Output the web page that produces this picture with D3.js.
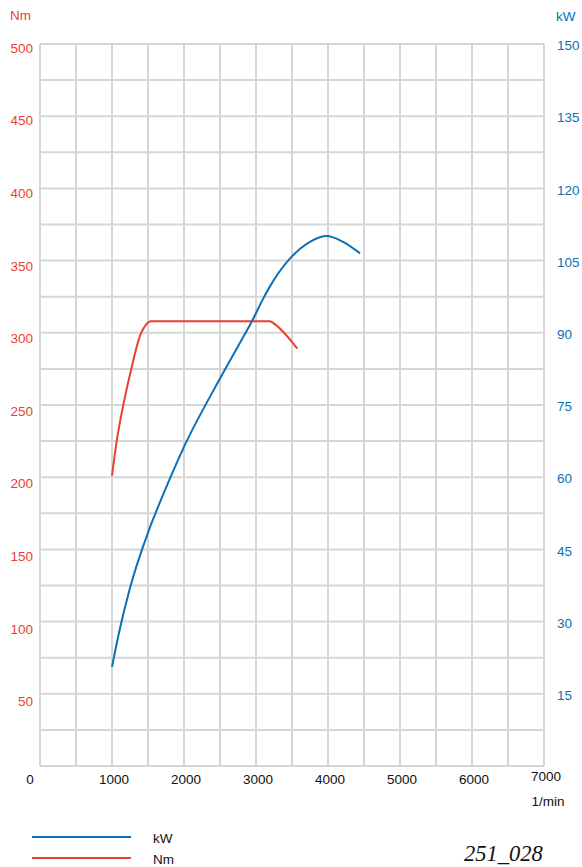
<!DOCTYPE html>
<html>
<head>
<meta charset="utf-8">
<script src="https://cdn.jsdelivr.net/npm/d3@7"></script>
<style>
  body { margin: 0; background: #fff; }
  svg text { font-family: "Liberation Sans", Arial, sans-serif; }
</style>
</head>
<body>
<svg id="chart" width="582" height="867"></svg>
<script>
// data
var rpmTicks = [0, 1000, 2000, 3000, 4000, 5000, 6000, 7000];
var nmTicks = [50, 100, 150, 200, 250, 300, 350, 400, 450, 500];
var kwTicks = [15, 30, 45, 60, 75, 90, 105, 120, 135, 150];

var kwRpm = [1000, 1100, 1250, 1500, 1700, 2000, 2500, 2780, 2940, 3100, 3200, 3470, 3750, 3980, 4210, 4445];
var kwValues = [20.6, 27.9, 37, 48.5, 56, 66.3, 80.5, 88, 92.3, 97.1, 99.8, 105.4, 108.9, 110.1, 108.9, 106.5];

var nmRpm = [1000, 1065, 1157, 1273, 1389, 1470, 1540, 2000, 2500, 3000, 3194, 3260, 3574];
var nmValues = [201, 225, 250, 276, 298, 305.5, 308, 308, 308, 308, 308, 306, 289];

var red = "#ea3f33";
var blue = "#0b70b7";
var gridColor = "#d6d6d6";

var svg = d3.select("#chart");

// scales, both y axes share the same pixel range
var x = d3.scaleLinear().domain([0, 7000]).range([40, 544]);
var yNm = d3.scaleLinear().domain([0, 500]).range([766, 44]);
var yKw = d3.scaleLinear().domain([0, 150]).range([766, 44]);

// grid every 500 rpm and every 25 Nm
var grid = svg.append("g");
grid.selectAll("line.v")
  .data(d3.range(0, 7001, 500))
  .enter().append("line")
  .attr("x1", d => x(d)).attr("x2", d => x(d))
  .attr("y1", yNm(500)).attr("y2", yNm(0))
  .attr("stroke", gridColor).attr("stroke-width", 2);
grid.selectAll("line.h")
  .data(d3.range(0, 501, 25))
  .enter().append("line")
  .attr("x1", x(0)).attr("x2", x(7000))
  .attr("y1", d => yNm(d)).attr("y2", d => yNm(d))
  .attr("stroke", gridColor).attr("stroke-width", 2);

// left axis labels (Nm)
svg.selectAll("text.nm")
  .data(nmTicks)
  .enter().append("text")
  .attr("x", 33)
  .attr("y", d => yNm(d) + 8 - d / 500 * 4)
  .attr("dy", "0.35em")
  .attr("text-anchor", "end")
  .attr("fill", red)
  .style("font-size", "13.5px")
  .text(d => d);
svg.append("text").attr("x", 10).attr("y", 15).attr("dy", "0.35em")
  .attr("fill", red).style("font-size", "13.5px").text("Nm");

// right axis labels (kW)
svg.selectAll("text.kw")
  .data(kwTicks)
  .enter().append("text")
  .attr("x", 557)
  .attr("y", d => yKw(d) + 1.5)
  .attr("dy", "0.35em")
  .attr("fill", blue)
  .style("font-size", "13.5px")
  .text(d => d);
svg.append("text").attr("x", 556).attr("y", 16).attr("dy", "0.35em")
  .attr("fill", blue).style("font-size", "13.5px").text("kW");

// bottom axis labels
svg.selectAll("text.rpm")
  .data(rpmTicks)
  .enter().append("text")
  .attr("x", d => d == 0 ? 30 : x(d) + 2)
  .attr("y", d => d == 7000 ? 776 : 779)
  .attr("dy", "0.35em")
  .attr("text-anchor", "middle")
  .attr("fill", "#111")
  .style("font-size", "13.5px")
  .text(d => d);
svg.append("text").attr("x", 548).attr("y", 801).attr("dy", "0.35em")
  .attr("text-anchor", "middle").attr("fill", "#111")
  .style("font-size", "13.5px").text("1/min");

// curves
var kwLine = d3.line()
  .x((d, i) => x(kwRpm[i]))
  .y(d => yKw(d))
  .curve(d3.curveMonotoneX);
var nmLine = d3.line()
  .x((d, i) => x(nmRpm[i]))
  .y(d => yNm(d))
  .curve(d3.curveMonotoneX);

svg.append("path").attr("d", nmLine(nmValues))
  .attr("fill", "none").attr("stroke", red).attr("stroke-width", 2);
svg.append("path").attr("d", kwLine(kwValues))
  .attr("fill", "none").attr("stroke", blue).attr("stroke-width", 2);

// legend
var legend = [["kW", blue, 837], ["Nm", red, 858]];
legend.forEach(function(item) {
  svg.append("line").attr("x1", 32).attr("x2", 131)
    .attr("y1", item[2]).attr("y2", item[2])
    .attr("stroke", item[1]).attr("stroke-width", 2);
  svg.append("text").attr("x", 153).attr("y", item[2] + 1).attr("dy", "0.35em")
    .attr("fill", "#111").style("font-size", "13.5px").text(item[0]);
});

// figure number
svg.append("text").attr("x", 464).attr("y", 861)
  .style("font-family", "'Liberation Serif', 'Times New Roman', serif")
  .style("font-style", "italic")
  .style("font-size", "22.5px")
  .attr("fill", "#111")
  .text("251_028");
</script>
</body>
</html>
